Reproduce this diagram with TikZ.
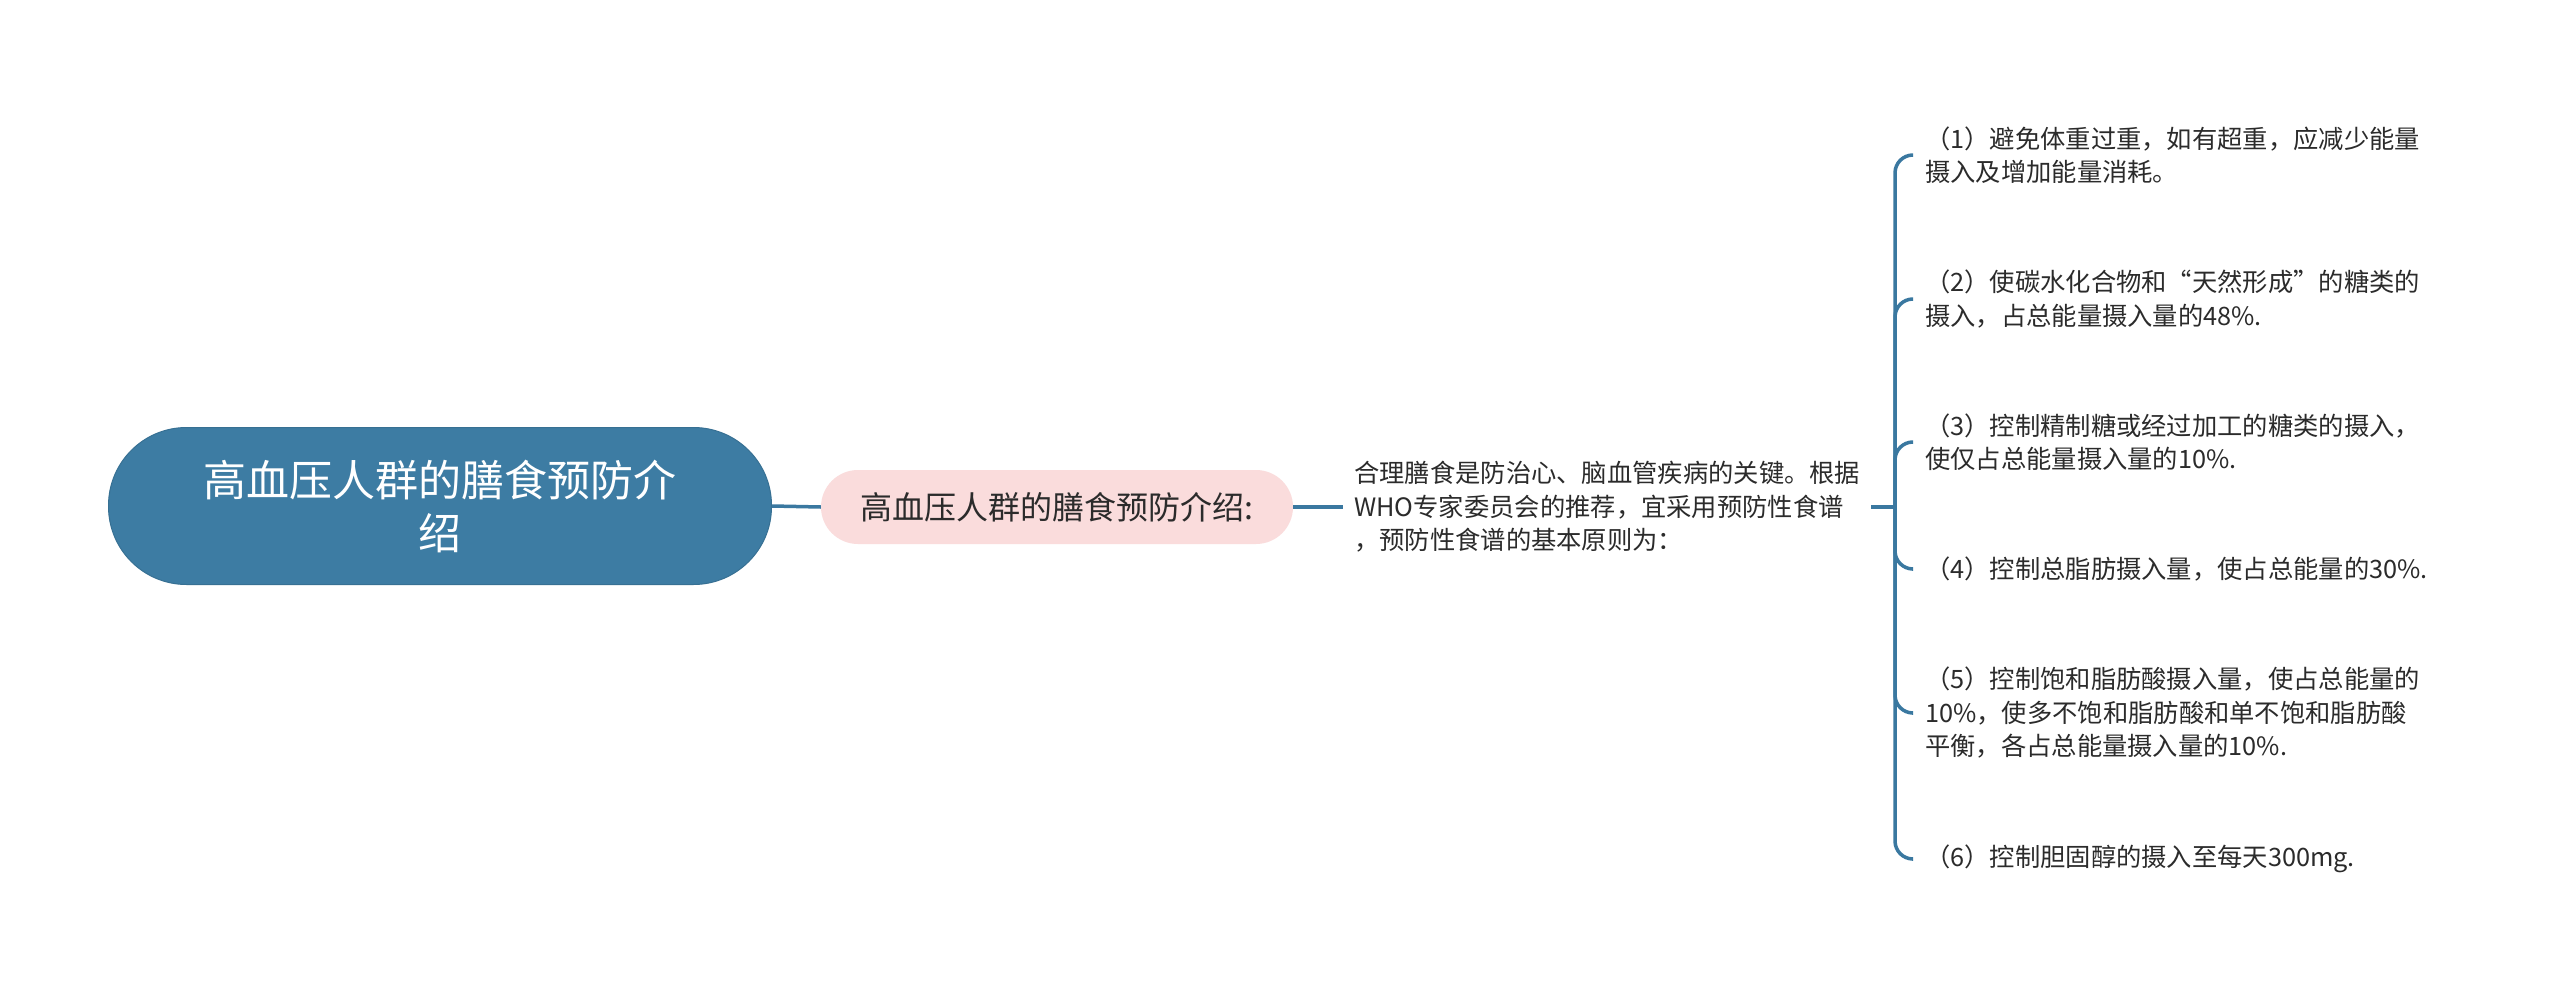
\documentclass[tikz,border=0pt]{standalone}
\usepackage{fontspec}
\setmainfont{Noto Sans CJK SC}
\definecolor{mainblue}{HTML}{3D7CA3}
\definecolor{linkblue}{HTML}{3A78A0}
\definecolor{pinkfill}{HTML}{FADCDC}
\definecolor{txt}{HTML}{2B2B2B}
\tikzset{
  rootbox/.style={draw=mainblue!90!black, line width=1pt, fill=mainblue, rounded corners=78pt,
    minimum width=663pt, minimum height=157pt, align=center, text=white,
    font=\fontsize{43}{53}\selectfont},
  subbox/.style={fill=pinkfill, rounded corners=37pt, minimum width=472pt, minimum height=74pt,
    align=center, text=txt, font=\fontsize{32}{40}\selectfont},
  parabox/.style={align=left, text=txt, inner xsep=11pt, inner ysep=0pt,
    font=\fontsize{25.3}{33.5}\selectfont},
  leafbox/.style={align=left, text=txt, inner xsep=13pt, inner ysep=0pt, anchor=west,
    font=\fontsize{25.3}{33.5}\selectfont},
  conn/.style={draw=linkblue, line width=3.5pt},
  branch/.style={conn, rounded corners=18pt}
}
\begin{document}
\begin{tikzpicture}[x=1pt,y=-1pt]
\useasboundingbox[fill=white] (0,0) rectangle (2560,998);
\node[rootbox] (root) at (440,506) {高血压人群的膳食预防介\\绍};
\node[subbox] (sub) at (1057,507) {高血压人群的膳食预防介绍:};
\node[parabox, anchor=west] (para) at (1343,507) {合理膳食是防治心、脑血管疾病的关键。根据\\WHO专家委员会的推荐，宜采用预防性食谱\\，预防性食谱的基本原则为：};
\coordinate (spine) at (1895,507);
\node[leafbox] (l1) at (1912,155) {（1）避免体重过重，如有超重，应减少能量\\摄入及增加能量消耗。};
\node[leafbox] (l2) at (1912,299) {（2）使碳水化合物和“天然形成”的糖类的\\摄入，占总能量摄入量的48\%.};
\node[leafbox] (l3) at (1912,442) {（3）控制精制糖或经过加工的糖类的摄入，\\使仅占总能量摄入量的10\%.};
\node[leafbox] (l4) at (1912,569) {（4）控制总脂肪摄入量，使占总能量的30\%.};
\node[leafbox] (l5) at (1912,713) {（5）控制饱和脂肪酸摄入量，使占总能量的\\10\%，使多不饱和脂肪酸和单不饱和脂肪酸\\平衡，各占总能量摄入量的10\%.};
\node[leafbox] (l6) at (1912,859) {（6）控制胆固醇的摄入至每天300mg.};
\draw[conn] (root.east) -- (sub.west);
\draw[conn] (sub.east) -- (para.west);
\draw[conn] (para.east) -- (spine);
\foreach \n in {l1,l2,l3,l4,l5,l6}{
  \draw[branch] (spine) |- (\n.west);
}
\end{tikzpicture}
\end{document}
